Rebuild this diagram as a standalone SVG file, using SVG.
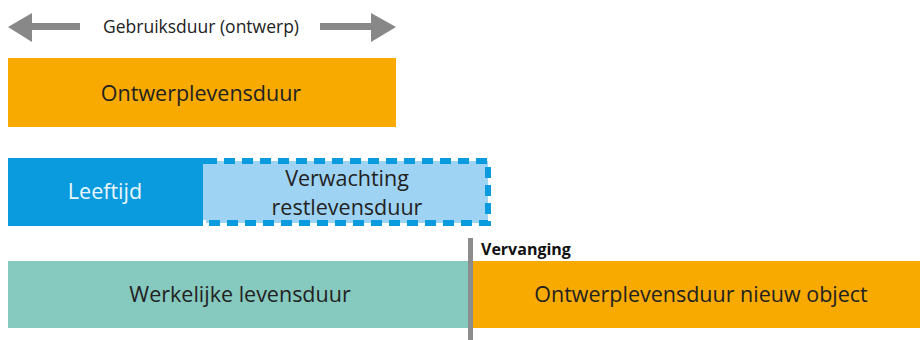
<svg xmlns="http://www.w3.org/2000/svg" width="920" height="340" viewBox="0 0 920 340">
<style>
text{font-family:"Open Sans","Noto Sans","Liberation Sans",sans-serif;fill:#222;text-anchor:middle}
.lbl{font-size:21.5px}
.bar-orange{fill:#F8AA00}
.arrow{fill:#888888}
</style>
<rect width="920" height="340" fill="#ffffff"/>
<g id="connectors">
<g id="arrow-left" class="arrow">
<polygon points="8,27 32,13 32,42"/>
<rect x="31" y="23" width="49" height="7"/>
</g>
<g id="arrow-right" class="arrow">
<polygon points="396,27 371,13 371,42"/>
<rect x="320" y="23" width="52" height="7"/>
</g>
<rect id="vervanging-line" x="468" y="238" width="5" height="102" fill="#8c8c8c"/>
</g>
<g id="gebruiksduur"><text x="201" y="33" style="font-size:17.5px">Gebruiksduur (ontwerp)</text></g>
<g id="ontwerplevensduur">
<rect class="bar-orange" x="8" y="58" width="388" height="69"/>
<text class="lbl" x="201" y="101">Ontwerplevensduur</text>
</g>
<g id="leeftijd">
<rect x="8" y="158" width="195" height="68" fill="#0A9BDF"/>
<text class="lbl" x="105" y="199" style="fill:#eaf6fc">Leeftijd</text>
</g>
<g id="restlevensduur">
<rect x="206" y="161" width="282" height="62" fill="#9FD3F3" stroke="#0A9BDF" stroke-width="6" stroke-dasharray="11,7"/>
<rect x="203" y="164" width="6" height="56" fill="#9FD3F3"/>
<text class="lbl" x="347" y="186">Verwachting</text>
<text class="lbl" x="347" y="215">restlevensduur</text>
</g>
<g id="werkelijke">
<rect x="8" y="261" width="460" height="67" fill="#86C9BF"/>
<text class="lbl" x="240" y="302">Werkelijke levensduur</text>
</g>
<g id="nieuw-object">
<rect class="bar-orange" x="473" y="261" width="447" height="67"/>
<text class="lbl" x="701" y="302">Ontwerplevensduur nieuw object</text>
</g>
<g id="vervanging"><text x="481" y="255" style="font-size:16px;font-weight:bold;text-anchor:start;fill:#111">Vervanging</text></g>
</svg>
